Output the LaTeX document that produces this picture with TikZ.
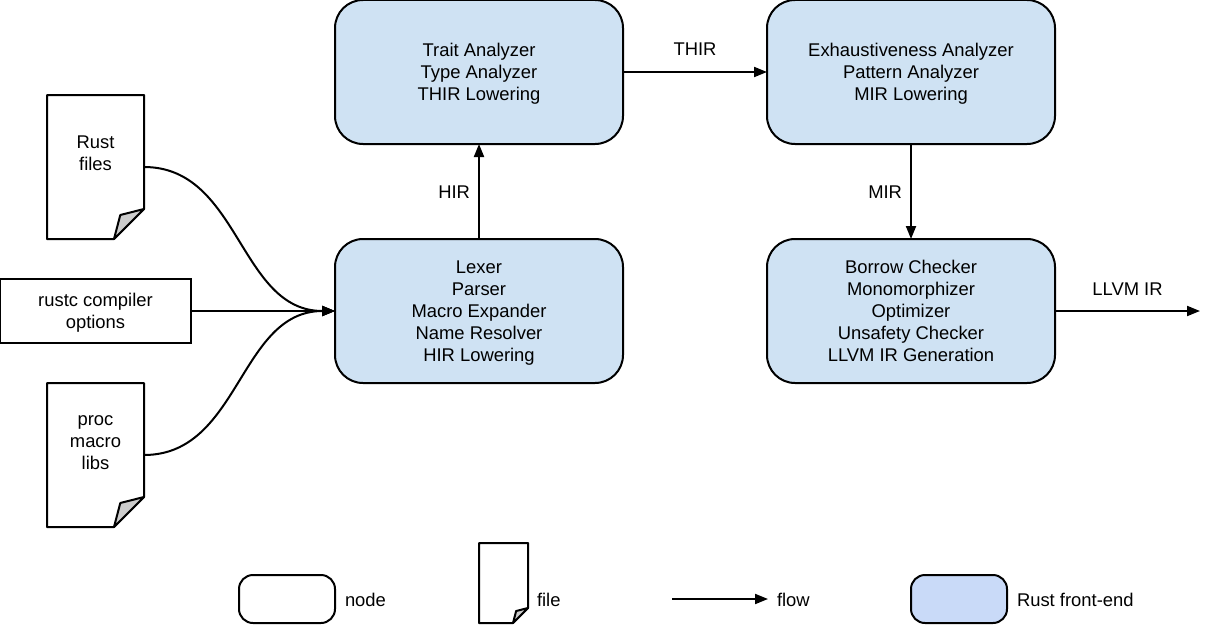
\documentclass[tikz,border=0pt]{standalone}
\usepackage{fontspec}
\setmainfont{Liberation Sans}
\usetikzlibrary{positioning,calc,arrows.meta}
\definecolor{frontblue}{HTML}{CFE2F3}
\definecolor{legendblue}{HTML}{C9DAF8}
\definecolor{foldgray}{HTML}{CCCCCC}
\tikzset{>={Triangle[length=13pt,width=10pt]}}
\tikzset{
  every node/.style={font=\fontsize{18.4}{22}\selectfont, align=center, outer sep=0pt, inner sep=0pt},
  front/.style={draw, rounded corners=28pt, minimum width=288pt, minimum height=144pt, fill=frontblue, text depth=-2pt},
  legendbox/.style={draw, rounded corners=14pt, minimum width=96pt, minimum height=48pt},
  filebox/.style={minimum width=97pt, minimum height=144pt},
  legendtext/.style={yshift=-1pt},
  flow/.style={->, line width=2pt}
}
% outline and folded corner of a file: name, cut size
\newcommand{\foldfile}[2]{
  \draw[line width=2pt, line join=round] (#1.north west) -- (#1.north east) -- ($(#1.south east)+(0,-#2)$) -- ($(#1.south east)+(-#2,0)$) -- (#1.south west) -- cycle;
  \draw[line width=2pt, line join=round, fill=foldgray] ($(#1.south east)+(0,-#2)$) -- ($(#1.south east)+(-0.79*#2,-0.8*#2)$) -- ($(#1.south east)+(-#2,0)$) -- cycle;
}
\begin{document}
\begin{tikzpicture}[x=1pt, y=-1pt]
      \useasboundingbox (0,0) rectangle (1206,626);
      % input files
      \node[filebox, label={[yshift=14pt]center:Rust\\files}] (nrust) at (95.5,167) {};
      \node[draw, line width=2pt, minimum width=191pt, minimum height=64pt, text depth=-3pt] (nopts) at (95.5,311) {rustc compiler\\options};
      \node[filebox, label={[yshift=12pt]center:proc\\macro\\libs}] (nprocs) at (95.5,455) {};
      \foldfile{nrust}{30}
      \foldfile{nprocs}{30}
      % front-end
      \node[front, line width=2pt] (nlex) at (479,311) {Lexer\\Parser\\Macro Expander\\Name Resolver\\HIR Lowering};
      \node[front, line width=2pt, above of=nlex, node distance=239pt] (ntype) {Trait Analyzer\\Type Analyzer\\THIR Lowering};
      \node[front, line width=2pt, right of=ntype, node distance=432pt] (npat) {Exhaustiveness Analyzer\\Pattern Analyzer\\MIR Lowering};
      \node[front, line width=2pt, right of=nlex, node distance=432pt] (nbor) {Borrow Checker\\Monomorphizer\\Optimizer\\Unsafety Checker\\LLVM IR Generation};
      \coordinate (aux1) at (1200,311);
      \draw[flow] (nrust.east) to[out=0, in=180, distance=96pt] (nlex.west);
      \draw[flow] (nprocs.east) to[out=0, in=180, distance=96pt] (nlex.west);
      \draw[flow] (nopts) to (nlex);
      \draw[flow] (nlex) to node[left=9pt, yshift=-1pt]{HIR} (ntype);
      \draw[flow] (ntype) to node[above=16pt]{THIR} (npat);
      \draw[flow] (npat) to node[left=9pt, yshift=-1pt]{MIR} (nbor);
      \draw[flow] (nbor) to node[above=16pt]{LLVM IR} (aux1);
      % legend
      \node[legendbox, line width=2pt] (lnode) at (287,599) {};
      \node[legendtext, right=10pt of lnode] (tnode) {node};
      \node[filebox, minimum width=49pt, minimum height=80pt] (lfile) at (503.5,583) {};
      \foldfile{lfile}{15}
      \node[right=9pt of lfile.south east, yshift=23pt, anchor=west] (tfile) {file};
      \coordinate (aux2) at (672,599);
      \coordinate (aux3) at (768,599);
      \draw[flow] (aux2) to (aux3);
      \node[legendtext, right=9pt of aux3] (tflow) {flow};
      \node[legendbox, line width=2pt, fill=legendblue] (lfront) at (959,599) {};
      \node[legendtext, right=10pt of lfront] (tfront) {Rust front-end};
\end{tikzpicture}
\end{document}
